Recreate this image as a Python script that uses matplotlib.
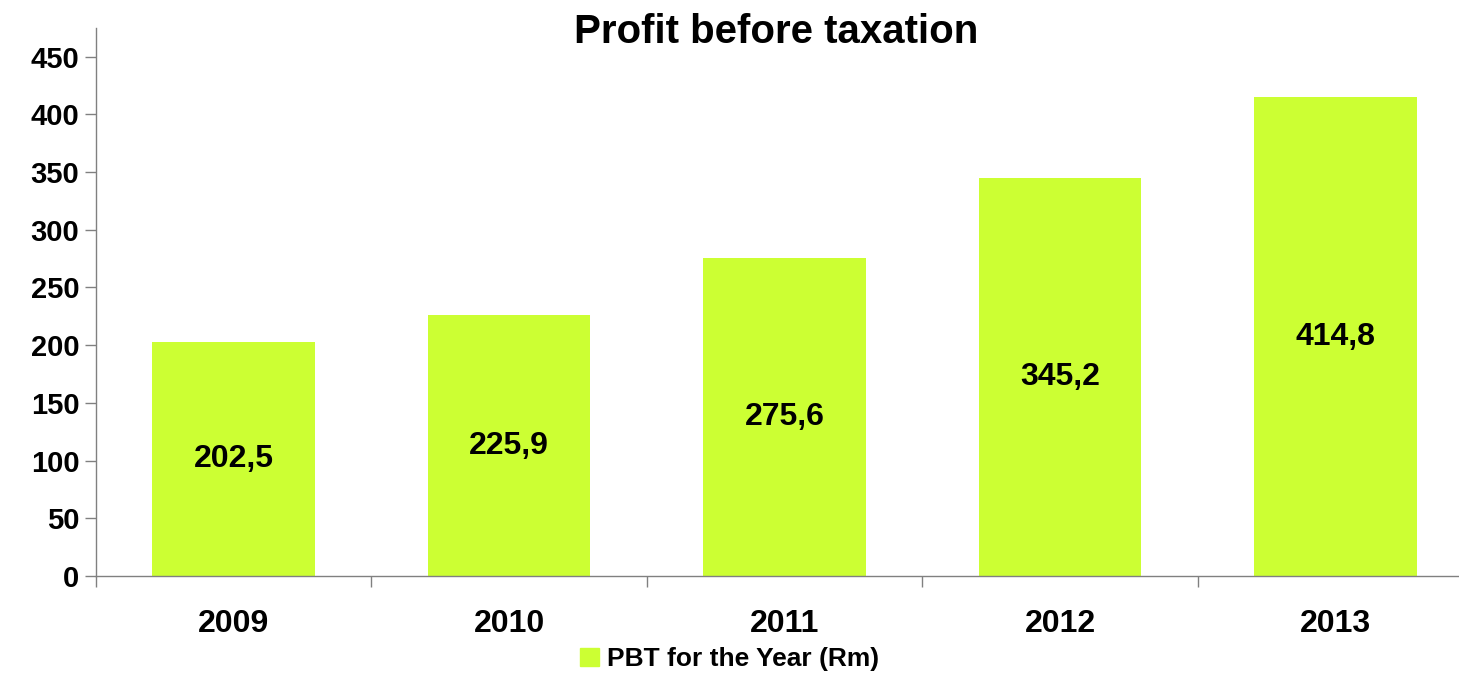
import matplotlib
matplotlib.use("Agg")
import matplotlib.pyplot as plt
from matplotlib.patches import Patch
import numpy as np

plt.rcParams["font.family"] = ["Liberation Sans", "DejaVu Sans"]
plt.rcParams["font.weight"] = "bold"

# データ（単位: Rm）
years = ["2009", "2010", "2011", "2012", "2013"]
pbt = [202.5, 225.9, 275.6, 345.2, 414.8]
y_ticks = [0, 50, 100, 150, 200, 250, 300, 350, 400, 450]

BAR_COLOR = "#CCFF33"
AXIS_COLOR = "#808080"

fig = plt.figure(figsize=(14.59, 6.80), dpi=100)
ax = fig.add_axes([0.0658, 0.153, 0.944, 0.806])

x = np.arange(len(years))
bars = ax.bar(x, pbt, width=0.59, color=BAR_COLOR, zorder=2)
ax.bar_label(bars, labels=[f"{v:.1f}".replace(".", ",") for v in pbt],
             label_type="center", fontsize=23, fontweight="bold")

ax.set_xlim(-0.5, len(years) - 0.5)
ax.set_ylim(0, 475)
ax.set_yticks(y_ticks)
ax.set_yticklabels([str(t) for t in y_ticks], fontsize=21, fontweight="bold")
ax.set_xticks(x)
ax.set_xticklabels(years, fontsize=23, fontweight="bold")
ax.set_xticks(np.arange(-0.5, len(years)), minor=True)

ax.tick_params(axis="y", length=8, width=1, color=AXIS_COLOR, pad=4)
ax.tick_params(axis="x", which="major", length=0, pad=24)
ax.tick_params(axis="x", which="minor", length=8, width=1, color=AXIS_COLOR)

for side in ["top", "right"]:
    ax.spines[side].set_visible(False)
for side in ["left", "bottom"]:
    ax.spines[side].set_color(AXIS_COLOR)
    ax.spines[side].set_linewidth(1)

fig.text(0.532, 0.953, "Profit before taxation", ha="center", va="center",
         fontsize=29, fontweight="bold")

fig.legend(handles=[Patch(color=BAR_COLOR, label="PBT for the Year (Rm)")],
           loc="lower center", bbox_to_anchor=(0.5, -0.022), frameon=False,
           prop={"size": 19, "weight": "bold"}, handlelength=0.7, handleheight=0.7,
           handletextpad=0.3)

fig.savefig("out.png", dpi=100)
